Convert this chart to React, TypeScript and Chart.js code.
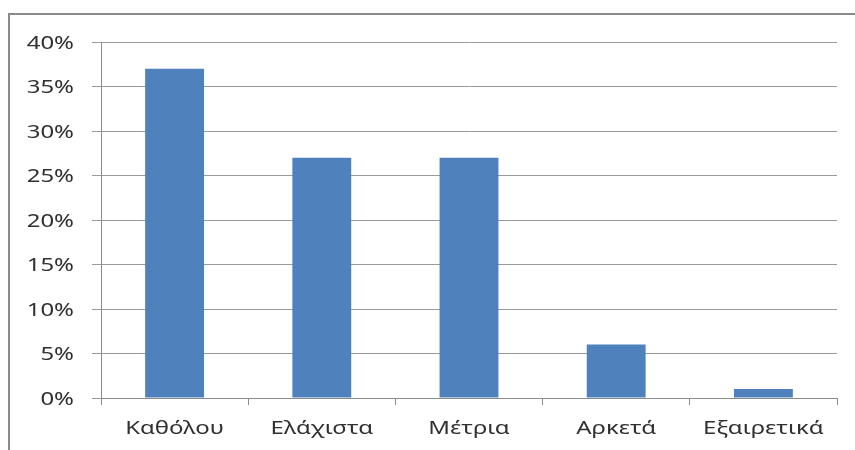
import React, { useEffect, useRef } from "react";
import { Chart, registerables } from "chart.js";

Chart.register(...registerables);

const categories = ["Καθόλου", "Ελάχιστα", "Μέτρια", "Αρκετά", "Εξαιρετικά"];
const values = [37, 27, 27, 6, 1];
const yMin = 0;
const yMax = 40;
const yStep = 5;

const FONT = "18px 'Noto Sans', 'Open Sans', sans-serif";
const STRETCH = 1.33;
const TEXT_COLOR = "#303030";

// Draws the tick labels of the library's scales with a wide (stretched) face.
const wideLabels = {
  id: "wideLabels",
  afterDraw(chart: any) {
    const ctx = chart.ctx;
    const xs = chart.scales.x;
    const ys = chart.scales.y;
    ctx.save();
    ctx.font = FONT;
    ctx.fillStyle = TEXT_COLOR;
    ctx.textBaseline = "alphabetic";
    // x labels
    ctx.textAlign = "center";
    xs.ticks.forEach((t: any, i: number) => {
      const px = xs.getPixelForTick(i);
      const label = xs.getLabelForValue(t.value);
      ctx.save();
      ctx.translate(px, xs.top + 36);
      ctx.scale(STRETCH, 1);
      ctx.fillText(label, 0, 0);
      ctx.restore();
    });
    // y labels
    ctx.textAlign = "right";
    ys.ticks.forEach((t: any, i: number) => {
      const py = ys.getPixelForTick(i);
      ctx.save();
      ctx.translate(ys.right - 27, py + 6.5);
      ctx.scale(STRETCH, 1);
      ctx.fillText(t.value + "%", 0, 0);
      ctx.restore();
    });
    ctx.restore();
  },
};

export default function App() {
  const ref = useRef<HTMLCanvasElement | null>(null);
  useEffect(() => {
    if (!ref.current) return;
    const font = { family: "'Noto Sans', sans-serif", size: 18 };
    const chart = new Chart(ref.current, {
      type: "bar",
      data: {
        labels: categories,
        datasets: [
          {
            data: values,
            backgroundColor: "#4f81bd",
            borderWidth: 0,
            categoryPercentage: 1,
            barPercentage: 0.4,
          },
        ],
      },
      plugins: [wideLabels],
      options: {
        animation: false,
        responsive: false,
        maintainAspectRatio: false,
        layout: { padding: { left: 0, right: 18, top: 42, bottom: 0 } },
        plugins: { legend: { display: false }, tooltip: { enabled: false } },
        scales: {
          x: {
            grid: {
              offset: true,
              drawOnChartArea: false,
              drawTicks: true,
              tickLength: 7,
              color: "#8c8c8c",
            },
            border: { color: "#8c8c8c" },
            ticks: { font, color: "rgba(0,0,0,0)", padding: 12, maxRotation: 0, autoSkip: false },
            afterFit: (s: any) => {
              s.height = 52;
            },
          },
          y: {
            min: yMin,
            max: yMax,
            ticks: {
              stepSize: yStep,
              font,
              color: "rgba(0,0,0,0)",
              padding: 15,
              callback: (v: any) => v + "%",
            },
            grid: { color: "#9a9a9a", tickLength: 9 },
            border: { color: "#8c8c8c" },
            afterFit: (s: any) => {
              s.width = 101;
            },
          },
        },
      },
    });
    return () => chart.destroy();
  }, []);
  return (
    <div
      style={{
        position: "fixed",
        left: 0,
        top: 0,
        width: 855,
        height: 450,
        background: "#fff",
        overflow: "hidden",
      }}
    >
      <div
        style={{
          position: "absolute",
          left: 8,
          top: 13,
          width: 900,
          height: 500,
          border: "2px solid #8a8a8a",
        }}
      />
      <canvas
        ref={ref}
        width={855}
        height={450}
        style={{ position: "absolute", left: 0, top: 0, width: 855, height: 450 }}
      />
    </div>
  );
}
